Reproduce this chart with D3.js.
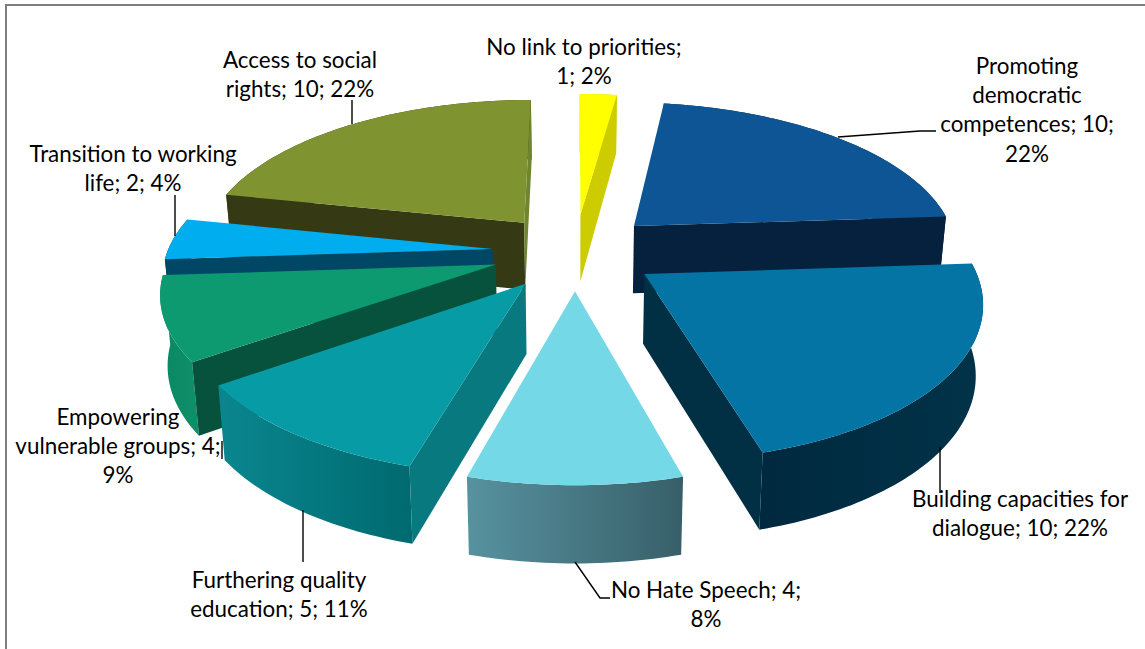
<!DOCTYPE html>
<html><head><meta charset="utf-8">
<style>html,body{margin:0;padding:0;background:#fff;overflow:hidden}svg{display:block}</style>
<script src="https://cdn.jsdelivr.net/npm/d3@7/dist/d3.min.js"></script></head>
<body><svg id="c" width="1145" height="649"></svg>
<script>
// ---- data ----
const categories = ["No link to priorities","Promoting democratic competences","Building capacities for dialogue","No Hate Speech","Furthering quality education","Empowering vulnerable groups","Transition to working life","Access to social rights"];
const values = [1,10,10,4,5,4,2,10];
const faceColors = ["#FFFF00","#0D5595","#0374A4","#75D8E6","#079BA5","#0E9A70","#00ADEF","#7F9430"];
const radialColors = ["#CCCC00","#05213D","#013045","#3F6F7A","#08797F","#07523C","#004766","#353A14"];
const closingWall = "#6F8530";
const rimStart = ["#CCCC00","#05213D","#00293F","#57929F","#0A868F","#0B8663","#004766","#353A14"];
const rimEnd = ["#CCCC00","#05213D","#013348","#375F69","#006A70","#0D8F68","#004766","#353A14"];
const labelLines = [
 ["No link to priorities;","1; 2%"],
 ["Promoting","democratic","competences; 10;","22%"],
 ["Building capacities for","dialogue; 10; 22%"],
 ["No Hate Speech; 4;","8%"],
 ["Furthering quality","education; 5; 11%"],
 ["Empowering","vulnerable groups; 4;","9%"],
 ["Transition to working","life; 2; 4%"],
 ["Access to social","rights; 10; 22%"]];
// ---- layout ----
const paintOrder = [7,0,1,6,5,2,4,3];
// which radial walls (0 = start edge, 1 = end edge) face the viewer, per slice
const visibleWalls = [[1],[1],[1],[],[0],[0],[0],[0,1]];
const labelAnchor = [[584,55],[1027,74],[1020,507],[706,598],[279,588],[118,425],[133,162],[300,68]];
const leaders = [[],[[838,137],[920,131],[936,131]],[[940,447],[940,493]],[[575,562],[600,598],[610,598]],[[303,510],[303,562]],[[222,441],[222,459]],[[175,195],[175,236]],[[352,100],[352,124]]];
const explode = 0.255, persp = 0.155, lineH = 29.2;
const W=1145,H=649;

const svg = d3.select("#c");
const defs = svg.append("defs");
svg.append("rect").attr("x",6).attr("y",5).attr("width",W+20).attr("height",H+20)
   .attr("fill","#fff").attr("stroke","#7f7f7f").attr("stroke-width",2);

const xS = d3.scaleLinear().domain([-1,1]).range([575-325,575+325]);
const yS = d3.scaleLinear().domain([-1,1]).range([251.5-150,251.5+150]);
const pie = d3.pie().sort(null).value(d=>d)(values);
const line = d3.line();

function proj(X,Y,z){
  const w = 1-persp*Y;
  let sx = xS(X/w), sy = yS(Y/w);
  if(z){ sx = 575+(sx-575)*0.982; sy += 68.5+7.75*Y; }
  return [sx,sy];
}
const rimPts = (a0,a1,ox,oy)=>{
  const n = Math.max(2,Math.ceil((a1-a0)/0.02));
  return d3.range(n+1).map(i=>{const t=a0+(a1-a0)*i/n;return [ox+Math.sin(t),oy-Math.cos(t)];});
};
const g = svg.append("g");
paintOrder.forEach(i=>{
  const s = pie[i], mid=(s.startAngle+s.endAngle)/2;
  const ox = explode*Math.sin(mid), oy=-explode*Math.cos(mid);
  const rim = rimPts(s.startAngle,s.endAngle,ox,oy);
  const top = rim.map(p=>proj(p[0],p[1],0));
  const bot = rim.map(p=>proj(p[0],p[1],1));
  const gid="rim"+i;
  const grad=defs.append("linearGradient").attr("id",gid).attr("gradientUnits","userSpaceOnUse")
    .attr("x1",d3.min(top,p=>p[0])).attr("x2",d3.max(top,p=>p[0])).attr("y1",0).attr("y2",0);
  grad.append("stop").attr("offset",0).attr("stop-color",rimStart[i]);
  grad.append("stop").attr("offset",1).attr("stop-color",rimEnd[i]);
  const apexT=proj(ox,oy,0), apexB=proj(ox,oy,1);
  // rim wall
  g.append("path").attr("d",line(top.concat(bot.slice().reverse()))+"Z").attr("fill",`url(#${gid})`);
  // radial walls
  visibleWalls[i].forEach(j=>{
    const k = j===0 ? 0 : rim.length-1;
    const fill = (i===7&&j===1)?closingWall:radialColors[i];
    g.append("path").attr("d",line([apexT,top[k],bot[k],apexB])+"Z").attr("fill",fill);
  });
  // top face
  g.append("path").attr("d",line([apexT].concat(top))+"Z").attr("fill",faceColors[i]);
});

// leader lines
leaders.forEach(l=>{ if(l.length) svg.append("path").attr("d",line(l)).attr("fill","none").attr("stroke","#000").attr("stroke-width",1.4); });
// labels
labelLines.forEach((ls,i)=>{
  const t=svg.append("text").attr("text-anchor","middle").attr("font-family","Lato, 'Open Sans', sans-serif")
    .attr("font-size",22.4).attr("fill","#000");
  ls.forEach((l,j)=>t.append("tspan").attr("x",labelAnchor[i][0]).attr("y",labelAnchor[i][1]+j*lineH).text(l));
});
</script></body></html>
